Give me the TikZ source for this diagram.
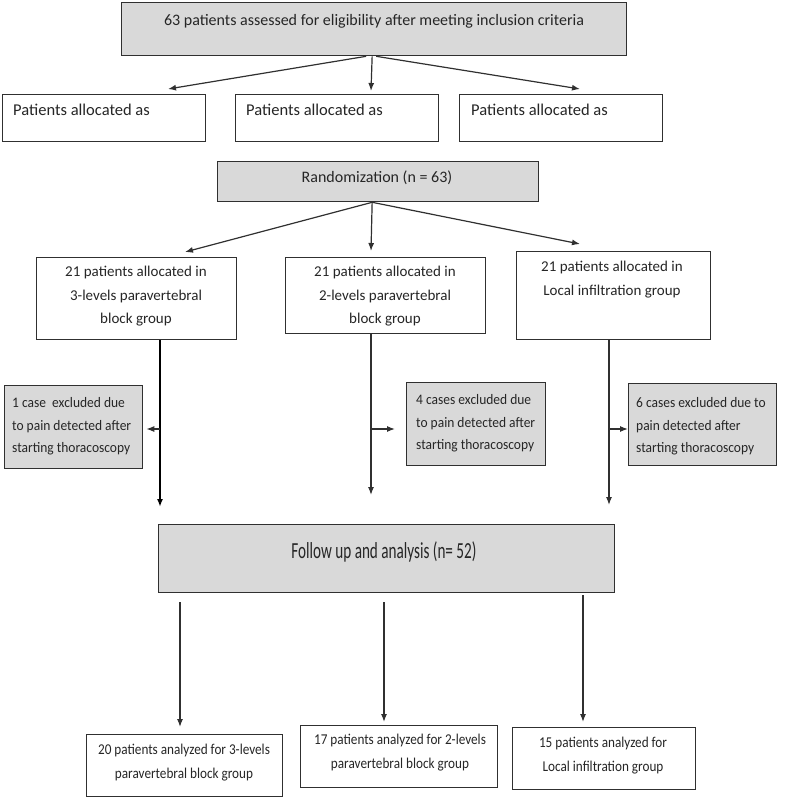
\documentclass[tikz,border=0pt]{standalone}
\usepackage{fontspec}
\setmainfont{Carlito}
\usetikzlibrary{arrows.meta}
\definecolor{boxgray}{HTML}{D9D9D9}
\definecolor{edge}{HTML}{303030}
\newcommand\linesc[3]{\scalebox{#1}[1]{\begin{tabular}{@{}#2@{}}#3\end{tabular}}}
\begin{document}
\begin{tikzpicture}[x=1pt,y=-1pt,
  box/.style={draw=edge, line width=1.3pt, fill=white, anchor=north west, inner sep=0pt},
  gbox/.style={box, fill=boxgray},
  txt/.style={font=\fontsize{15}{23.5}\selectfont, inner sep=0pt, text=black!85},
  etxt/.style={font=\fontsize{14.5}{22.5}\selectfont, inner sep=0pt, text=black!85},
  arr/.style={draw=edge, line width=1.2pt, -{Latex[length=8pt,width=6pt]}},
  thick arr/.style={arr, draw=black, line width=2.2pt}]
\useasboundingbox (0,0) rectangle (788,801);

% boxes
\node[gbox, minimum width=505pt, minimum height=53pt] (top) at (121,2) {};
\node[box, minimum width=203pt, minimum height=47pt] (pa1) at (2,94) {};
\node[box, minimum width=203pt, minimum height=47pt] (pa2) at (235,94) {};
\node[box, minimum width=203pt, minimum height=47pt] (pa3) at (459,94) {};
\node[gbox, minimum width=321pt, minimum height=40pt] (rand) at (217,161) {};
\node[box, minimum width=200pt, minimum height=82pt] (g1) at (36,257) {};
\node[box, minimum width=200pt, minimum height=76pt] (g2) at (285,257) {};
\node[box, minimum width=194pt, minimum height=88pt] (g3) at (516,251) {};
\node[gbox, minimum width=138pt, minimum height=83pt] (e1) at (4,385) {};
\node[gbox, minimum width=139pt, minimum height=83pt] (e2) at (406,382) {};
\node[gbox, minimum width=148pt, minimum height=82pt] (e3) at (628,383) {};
\node[gbox, minimum width=456pt, minimum height=68pt] (fu) at (158,524) {};
\node[box, minimum width=196pt, minimum height=62pt] (b1) at (86,734) {};
\node[box, minimum width=197pt, minimum height=62pt] (b2) at (300,725) {};
\node[box, minimum width=183pt, minimum height=62pt] (b3) at (512,727) {};

% texts
\node[txt, font=\fontsize{16}{20}\selectfont] (topt) at (374,21) {63 patients assessed for eligibility after meeting inclusion criteria};
\node[txt, font=\fontsize{16.5}{20}\selectfont, anchor=west] (pa1t) at (13,110) {Patients allocated as};
\node[txt, font=\fontsize{16.5}{20}\selectfont, anchor=west] (pa2t) at (246,110) {Patients allocated as};
\node[txt, font=\fontsize{16.5}{20}\selectfont, anchor=west] (pa3t) at (471,110) {Patients allocated as};
\node[txt, font=\fontsize{16}{20}\selectfont] (randt) at (377,178) {Randomization (n = 63)};
\node[txt, anchor=north, align=center] (g1t) at (136,266) {21 patients allocated in\\3-levels paravertebral\\block group};
\node[txt, anchor=north, align=center] (g2t) at (385,266) {21 patients allocated in\\2-levels paravertebral\\block group};
\node[txt, anchor=north, align=center] (g3t) at (612,261) {21 patients allocated in\\Local infiltration group};
\node[etxt, anchor=north west] (e1t) at (12,392) {\linesc{0.93}{l}{1 case\ \ excluded due\\to pain detected after\\starting thoracoscopy}};
\node[etxt, anchor=north west] (e2t) at (416,389) {\linesc{0.93}{l}{4 cases excluded due\\to pain detected after\\starting thoracoscopy}};
\node[etxt, anchor=north west] (e3t) at (636,392) {\linesc{0.93}{l}{6 cases excluded due to\\pain detected after\\starting thoracoscopy}};
\node[inner sep=0pt, font=\fontsize{23}{26}\selectfont, text=black!85] (fut) at (384,552) {\scalebox{0.66}[1]{Follow up and analysis (n= 52)}};
\node[txt, anchor=north] (b1t) at (184,738) {\linesc{0.88}{c}{20 patients analyzed for 3-levels\\paravertebral block group}};
\node[txt, anchor=north] (b2t) at (400,728) {\linesc{0.88}{c}{17 patients analyzed for 2-levels\\paravertebral block group}};
\node[txt, anchor=north] (b3t) at (603,731) {\linesc{0.88}{c}{15 patients analyzed for\\Local infiltration group}};

% arrow end points
\coordinate (t1) at (168,89);
\coordinate (t2) at (371,91);
\coordinate (t3) at (580,89);
\coordinate (r1) at (185,252);
\coordinate (r2) at (371,251);
\coordinate (r3) at (580,244);
\coordinate (d1) at (160,507);
\coordinate (d2) at (371,495);
\coordinate (d3) at (609,505);
\coordinate (s1) at (160,429);
\coordinate (s2) at (371,429);
\coordinate (s3) at (609,429);
\coordinate (u1) at (180,602);
\coordinate (u2) at (384,602);
\coordinate (u3) at (583,595);
\coordinate (v1) at (180,727);
\coordinate (v2) at (384,722);
\coordinate (v3) at (583,722);

% connectors
\draw[arr] ([xshift=-8pt]top.south) -- (t1);
\draw[arr] ([xshift=-2pt]top.south) -- (t2);
\draw[arr] ([xshift=2pt]top.south) -- (t3);
\draw[arr] ([xshift=-6pt]rand.south) -- (r1);
\draw[arr] ([xshift=-6pt]rand.south) -- (r2);
\draw[arr] ([xshift=-6pt]rand.south) -- (r3);
\draw[thick arr] (g1.south -| d1) -- (d1);
\draw[arr] (g2.south -| d2) -- (d2);
\draw[arr] (g3.south -| d3) -- (d3);
\draw[arr, shorten >=3pt] (s1) -- (e1.east |- s1);
\draw[arr, shorten >=11pt] (s2) -- (e2.west |- s2);
\draw[arr] (s3) -- (e3.west |- s3);
\draw[arr] (u1) -- (v1);
\draw[arr] (u2) -- (v2);
\draw[arr] (u3) -- (v3);
\end{tikzpicture}
\end{document}
